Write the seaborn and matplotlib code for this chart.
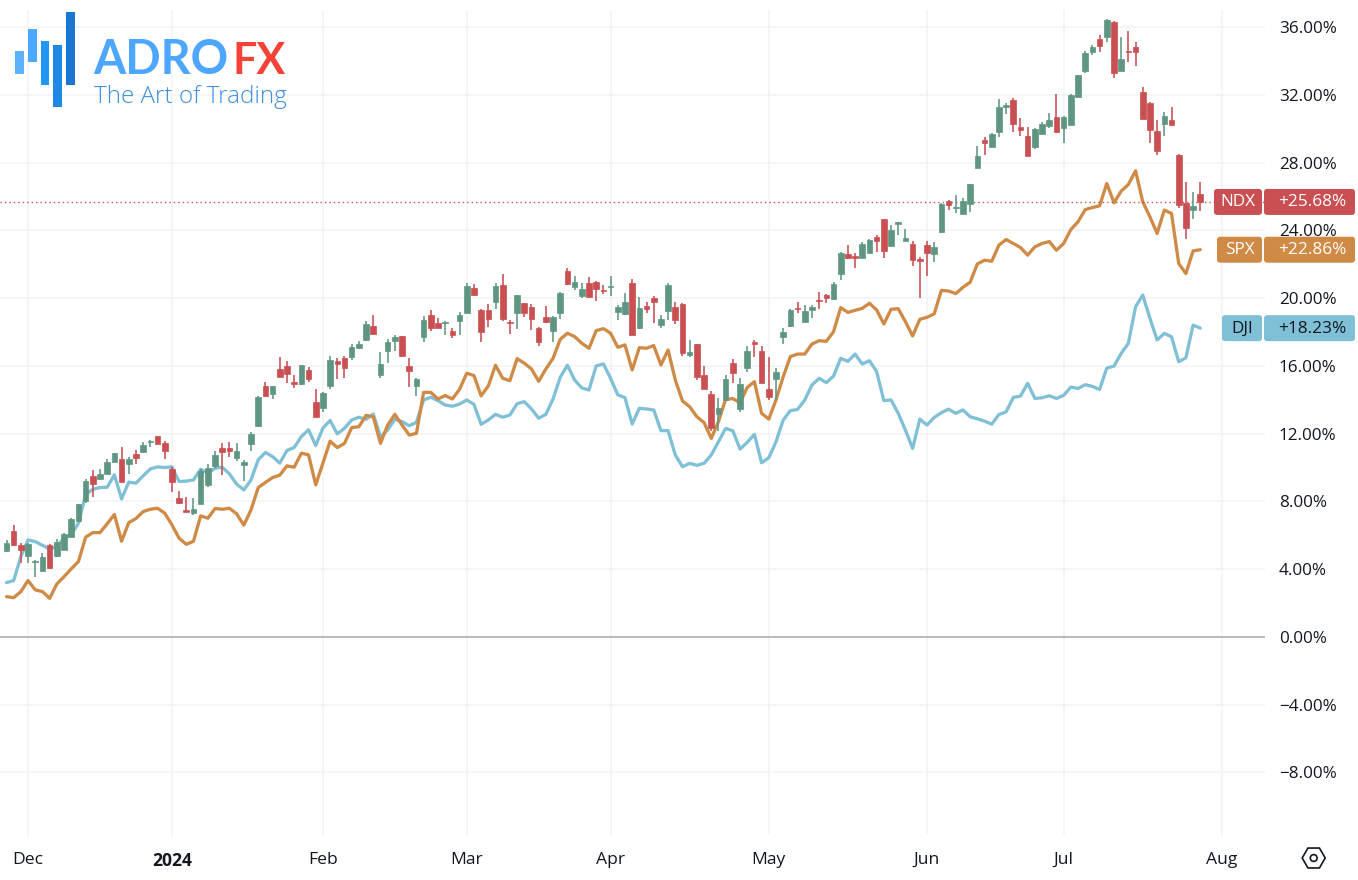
import numpy as np
import pandas as pd
import matplotlib
matplotlib.use("Agg")
import matplotlib.pyplot as plt
from matplotlib.patches import Rectangle, FancyBboxPatch, RegularPolygon, Circle
from matplotlib.transforms import IdentityTransform
import seaborn as sns

# ---------- data (percent change, one entry per trading session) ----------
ndx_open = [5.10,6.24,5.41,4.80,4.41,3.90,5.43,4.75,5.14,5.93,
 6.87,8.05,9.51,9.35,9.63,10.34,10.53,10.22,10.79,10.89,
 11.48,11.87,11.46,9.90,8.23,7.50,7.30,7.84,8.98,10.10,
 11.14,11.14,10.59,10.16,11.40,12.45,14.79,14.34,15.80,15.99,
 15.03,14.93,15.76,13.85,13.53,14.81,16.31,16.49,16.51,17.06,
 17.53,18.36,15.49,16.90,17.46,17.77,16.0,14.82,17.71,19.03,
 18.54,18.54,18.07,18.66,19.15,20.61,19.29,19.29,19.76,20.76,
 18.62,19.11,19.70,19.48,18.22,18.87,18.07,19.11,21.61,20.65,
 20.13,20.90,20.96,20.49,20.66,19.21,19.05,20.90,18.26,19.56,
 20.0,18.44,19.27,19.50,19.66,16.64,17.29,15.46,14.34,13.16,
 13.99,16.17,13.43,15.86,17.41,16.88,14.66,15.23,17.69,18.36,
 19.44,18.61,19.32,19.89,20.21,19.93,21.45,22.61,22.51,22.39,
 22.69,23.59,24.68,23.10,24.36,23.38,23.20,22.31,23.12,22.61,
 23.91,25.76,25.31,24.95,25.54,27.66,29.33,28.94,29.78,31.30,
 31.69,30.12,29.59,28.94,29.68,30.16,30.69,30.06,30.22,31.89,
 33.39,34.53,35.28,35.43,36.30,33.41,34.57,34.84,32.17,31.50,
 29.86,30.26,30.51,28.48,25.59,25.23,26.12]
ndx_close = [5.57,5.40,5.14,5.47,4.49,4.71,4.10,5.63,6.05,6.95,
 7.84,9.20,9.04,9.63,10.32,10.85,9.12,10.50,10.59,11.34,
 11.58,11.42,10.95,9.12,7.90,7.40,7.54,9.81,9.96,10.75,
 10.89,10.99,10.99,10.34,11.99,14.18,14.22,14.79,15.36,15.50,
 14.95,16.07,15.23,13.0,14.38,16.35,16.13,15.89,17.10,17.30,
 18.46,17.89,16.10,17.44,17.69,16.59,15.72,15.23,18.72,18.24,
 18.24,18.60,17.85,19.01,20.72,20.17,18.03,18.77,20.69,18.76,
 18.52,20.17,19.15,18.77,17.40,18.60,18.91,20.31,20.82,20.94,
 20.53,20.09,20.57,20.41,20.72,19.50,19.78,17.85,19.41,19.35,
 19.80,18.76,20.76,18.72,16.74,16.80,15.32,14.66,12.31,13.49,
 15.21,15.56,14.93,16.88,17.27,15.01,14.14,15.66,17.98,19.30,
 19.34,19.26,19.46,19.81,20.01,20.86,22.69,22.35,22.35,23.18,
 23.44,23.40,22.81,24.03,24.48,23.57,22.26,22.22,22.69,23.0,
 25.56,25.48,25.37,25.76,26.74,28.38,29.13,29.68,31.30,31.40,
 30.26,29.92,28.40,29.96,30.28,30.51,29.80,30.67,31.99,33.15,
 34.49,34.80,34.90,36.42,33.31,34.10,34.51,34.51,30.59,29.92,
 28.70,30.73,30.24,25.49,24.15,25.45,25.69]
ndx_high = [5.73,6.62,5.57,5.57,4.55,4.98,5.47,5.77,6.16,7.01,
 7.86,9.31,9.87,9.94,10.53,10.85,11.20,10.65,11.05,11.52,
 11.64,11.87,11.56,10.02,8.60,8.27,8.23,9.94,10.20,10.95,
 11.44,11.48,11.44,10.42,12.07,14.20,15.07,14.81,16.50,16.27,
 15.46,16.07,15.95,14.61,14.46,16.58,16.49,16.59,17.28,17.48,
 18.64,19.01,16.81,17.57,17.83,17.77,16.45,15.27,18.95,19.31,
 18.81,18.64,18.22,19.19,20.88,20.82,19.35,19.64,20.92,21.45,
 18.72,20.21,19.74,19.64,18.32,19.56,18.95,20.35,21.77,21.28,
 20.92,21.24,21.04,20.78,21.31,19.60,20.29,21.12,20.05,19.80,
 20.13,19.01,20.92,19.80,19.70,17.53,17.29,16.0,14.50,14.08,
 15.48,16.41,15.27,17.20,17.53,17.20,16.51,15.90,18.22,19.34,
 19.76,19.58,19.58,20.35,20.25,20.94,22.75,23.14,22.69,23.34,
 23.50,23.73,24.68,24.32,24.52,24.09,23.38,22.45,23.40,23.32,
 25.60,25.80,26.09,25.90,26.74,28.98,29.53,29.72,31.75,31.54,
 31.79,30.61,30.08,30.02,30.39,30.91,32.05,30.77,32.03,33.17,
 34.61,34.94,35.53,36.46,36.38,35.43,35.79,35.12,32.44,31.56,
 30.51,31.0,31.30,28.50,26.83,26.24,26.83]
ndx_low = [5.04,5.38,4.35,4.39,3.52,3.90,4.04,4.71,5.14,5.93,
 6.81,7.90,8.29,9.24,9.63,10.34,9.12,9.63,10.20,10.85,
 11.20,11.40,10.51,8.53,7.82,7.40,7.19,7.82,8.88,9.96,
 9.59,10.65,10.36,9.22,10.95,12.40,14.16,14.02,15.32,14.97,
 14.69,14.87,15.05,13.0,13.26,14.61,15.22,15.27,16.35,16.98,
 17.48,17.85,15.27,16.20,16.90,16.51,14.78,14.25,17.44,18.09,
 18.22,17.85,17.67,17.85,19.11,20.15,17.44,18.32,19.37,18.66,
 17.89,18.18,18.91,18.13,17.18,18.52,17.44,18.76,20.80,20.49,
 20.0,20.09,19.84,20.23,20.15,18.72,19.01,17.83,18.16,19.11,
 18.56,18.26,18.72,18.46,16.60,16.51,15.17,14.62,12.17,12.17,
 13.99,15.01,13.30,15.66,16.55,15.01,13.99,13.99,17.29,18.32,
 19.14,18.61,18.83,19.38,19.74,19.89,21.07,22.31,21.76,22.35,
 22.65,22.71,22.39,23.10,23.73,23.38,21.92,19.99,21.31,22.16,
 23.83,25.21,25.05,24.95,25.11,27.66,28.44,28.90,29.49,30.87,
 29.82,29.59,28.40,28.78,29.67,30.02,29.76,29.13,30.22,31.89,
 33.27,34.33,34.55,35.10,33.01,33.41,33.94,33.72,30.59,29.13,
 28.44,29.57,30.22,25.35,23.52,24.66,25.16]
spx = [2.38,2.32,2.68,3.33,2.78,2.68,2.28,3.13,3.56,4.02,4.45,5.89,6.16,6.16,6.68,7.23,5.65,6.75,6.99,7.40,
 7.54,7.60,7.31,6.62,5.83,5.47,5.65,7.15,7.01,7.58,7.54,7.60,7.27,6.60,7.50,8.82,9.12,9.41,9.55,10.10,
 10.02,10.85,10.75,8.98,10.26,11.56,11.18,
 11.43,12.36,12.41,13.08,13.0,11.43,12.51,13.14,12.51,11.92,12.02,14.44,14.44,14.05,14.25,14.05,14.62,15.57,15.43,14.23,
 14.82,16.04,15.27,15.13,16.43,16.16,15.82,15.09,15.82,16.45,17.57,17.93,17.73,17.34,17.04,18.08,18.20,17.93,17.10,17.24,
 15.76,17.08,17.04,17.20,16.06,16.94,15.17,
 13.93,13.59,13.0,12.65,11.72,12.71,14.03,14.07,13.83,14.73,15.07,13.20,12.86,13.99,15.36,16.55,16.70,16.70,17.29,17.49,
 17.45,18.02,19.44,19.16,19.28,19.40,19.70,19.30,18.48,19.34,19.38,18.61,17.77,18.75,18.87,19.07,20.46,20.42,20.27,20.64,
 20.94,22.02,
 22.24,22.18,23.13,23.46,23.23,22.99,22.54,23.03,23.23,23.34,22.83,23.23,24.05,24.51,25.23,25.35,25.45,26.77,25.63,26.32,
 26.71,27.52,25.69,24.80,23.82,25.20,25.0,22.05,21.45,22.79,22.86]
dji = [3.21,3.33,4.75,5.73,5.63,5.41,5.18,5.34,5.83,6.03,6.71,8.39,8.72,8.82,8.84,9.57,8.15,9.14,9.08,9.51,
 9.92,10.04,10.0,10.04,9.18,9.20,9.27,9.90,9.67,9.96,10.02,9.63,9.02,8.68,9.27,10.46,10.89,10.65,10.26,11.01,
 11.18,11.83,12.23,11.30,12.33,12.78,11.99,
 12.32,12.81,12.97,12.85,13.16,11.82,12.22,12.85,12.71,12.47,12.67,13.99,14.15,13.95,13.69,13.62,13.75,13.99,13.73,12.55,
 12.81,13.14,12.97,13.10,13.77,13.89,13.46,12.91,13.14,14.05,15.33,16.04,15.17,14.70,14.58,16.0,16.12,15.27,14.29,14.13,
 12.57,13.50,13.46,13.40,12.18,12.18,10.74,
 10.05,10.25,10.13,10.25,10.74,11.52,12.31,12.17,11.09,11.49,11.96,10.28,10.58,11.52,12.80,13.36,13.43,13.99,14.87,15.27,
 15.01,15.40,16.45,16.27,16.70,16.11,16.31,15.66,13.95,13.99,13.20,12.21,11.13,12.86,12.51,12.96,13.24,13.45,13.20,13.40,
 13.0,12.88,
 12.74,12.56,13.13,13.29,14.14,14.22,14.97,14.08,14.12,14.24,14.08,14.26,14.75,14.67,14.89,14.79,14.61,15.87,15.99,16.74,
 17.33,19.49,20.18,18.81,17.53,17.92,17.72,16.25,16.48,18.41,18.23]

sessions = list(range(len(ndx_open)))
month_ticks = [3, 23, 44, 64, 84, 106, 128, 147, 169]
month_labels = ["Dec", "2024", "Feb", "Mar", "Apr", "May", "Jun", "Jul", "Aug"]
pct_ticks = [36, 32, 28, 24, 20, 16, 12, 8, 4, 0, -4, -8]
last_names = ["NDX", "SPX", "DJI"]
last_values = [25.68, 22.86, 18.23]

# ---------- style ----------
GREEN, RED, ORANGE, BLUE = "#5F9681", "#C94F52", "#CF8A45", "#7FC0D6"
INK = "#131722"
sns.set_theme(style="white")
plt.rcParams["font.family"] = ["Open Sans", "DejaVu Sans"]

W, H = 1358, 880
fig = plt.figure(figsize=(W / 100, H / 100), dpi=100, facecolor="white")
ax = fig.add_axes([0, (H - 835) / H, 1265 / W, 825 / H])
ax.set_xlim(-0.904, 175.0)
ax.set_ylim(-11.69, 37.01)
sns.despine(ax=ax, left=True, bottom=True, right=True, top=True)

ax.set_axisbelow(True)
ax.set_xticks(month_ticks)
ax.set_xticklabels(month_labels, fontsize=12.6, color=INK)
ax.get_xticklabels()[1].set_fontweight("bold")
ax.yaxis.tick_right()
ax.set_yticks(pct_ticks)
ax.set_yticklabels([f"{v:.2f}%".replace("-", "\u2212") for v in pct_ticks], fontsize=12.3, color=INK)
ax.tick_params(axis="x", length=0, pad=12)
ax.tick_params(axis="y", length=0, pad=10)
ax.grid(True, color="#F1F2F5", lw=1.1)
ax.axhline(0, color="#B4B5B8", lw=1.3, zorder=1.5)

# comparison lines
lines = pd.DataFrame({"session": sessions * 2, "pct": spx + dji,
                      "symbol": ["SPX"] * len(spx) + ["DJI"] * len(dji)})
sns.lineplot(data=lines, x="session", y="pct", hue="symbol", hue_order=["DJI", "SPX"],
             palette={"SPX": ORANGE, "DJI": BLUE}, lw=2.35, legend=False, ax=ax,
             errorbar=None, sort=False, zorder=2)
ax.set_xlabel("")
ax.set_ylabel("")

# candles
o, c, hi, lo = map(np.array, (ndx_open, ndx_close, ndx_high, ndx_low))
cols = [GREEN if a >= b else RED for a, b in zip(c, o)]
ax.vlines(sessions, lo, hi, colors=cols, lw=1.15, zorder=3)
ax.bar(sessions, np.abs(c - o), bottom=np.minimum(o, c), width=0.78, color=cols,
       edgecolor=cols, lw=0.5, zorder=3)

ax.axhline(last_values[0], color=RED, lw=1.0, ls=(0, (1, 2.2)), zorder=2.5)


# ---------- pixel-placed furniture ----------
def rect(x0, y0, x1, y1, color):
    fig.add_artist(Rectangle((x0, H - y1), x1 - x0, y1 - y0, color=color, lw=0,
                             transform=IdentityTransform(), zorder=6))


def pill(x0, x1, yc, color):
    fig.add_artist(FancyBboxPatch((x0, H - yc - 13), x1 - x0, 26,
                                  boxstyle="round,pad=0,rounding_size=3", fc=color, ec="none",
                                  transform=IdentityTransform(), zorder=7))


def label(x, y, s, color, **kw):
    fig.text(x, H - y, s, color=color, transform=IdentityTransform(), zorder=8, **kw)


# last-value tags
fig.canvas.draw()
tag_colors = [RED, ORANGE, BLUE]
tag_left = [1214, 1217, 1222]
tag_text = ["white", "white", INK]
for name, val, col, x0, tc in zip(last_names, last_values, tag_colors, tag_left, tag_text):
    yc = H - ax.transData.transform((0, val))[1]
    pill(x0, 1262, yc, col)
    pill(1264, 1355, yc, col)
    label((x0 + 1262) / 2, yc + 0.5, name, tc, fontsize=12.3, ha="center", va="center")
    label(1312, yc + 0.5, f"+{val:.2f}%", tc, fontsize=12.4, ha="center", va="center")

# logo
for (x0, y0, x1, y1), col in zip(
        [(15, 51, 24, 74), (28, 29, 37, 62), (41, 41, 49, 85), (53, 45, 62, 107), (66, 12, 75, 85)],
        ["#5CB1FD", "#4AA9FE", "#2196F3", "#1E88E5", "#1976D2"]):
    rect(x0, y0, x1, y1, col)
label(93, 74, "ADRO", "#4DA6FF", fontsize=33.5, fontweight="bold", family="Lato", ha="left", va="baseline")
label(233, 74, "FX", "#F44336", fontsize=31, fontweight="bold", family="Lato", ha="left", va="baseline")
label(94, 103, "The Art of Trading", "#3F8FE0", fontsize=17.5, fontweight="light", family="Open Sans",
      ha="left", va="baseline")

# settings icon
fig.add_artist(RegularPolygon((1313.7, H - 858), 6, radius=11.5, orientation=np.pi / 2, fill=False,
                              ec=INK, lw=1.2, transform=IdentityTransform()))
fig.add_artist(Circle((1313.7, H - 858), 3.4, fill=False, ec=INK, lw=1.2, transform=IdentityTransform()))

fig.savefig("out.png", dpi=100)
